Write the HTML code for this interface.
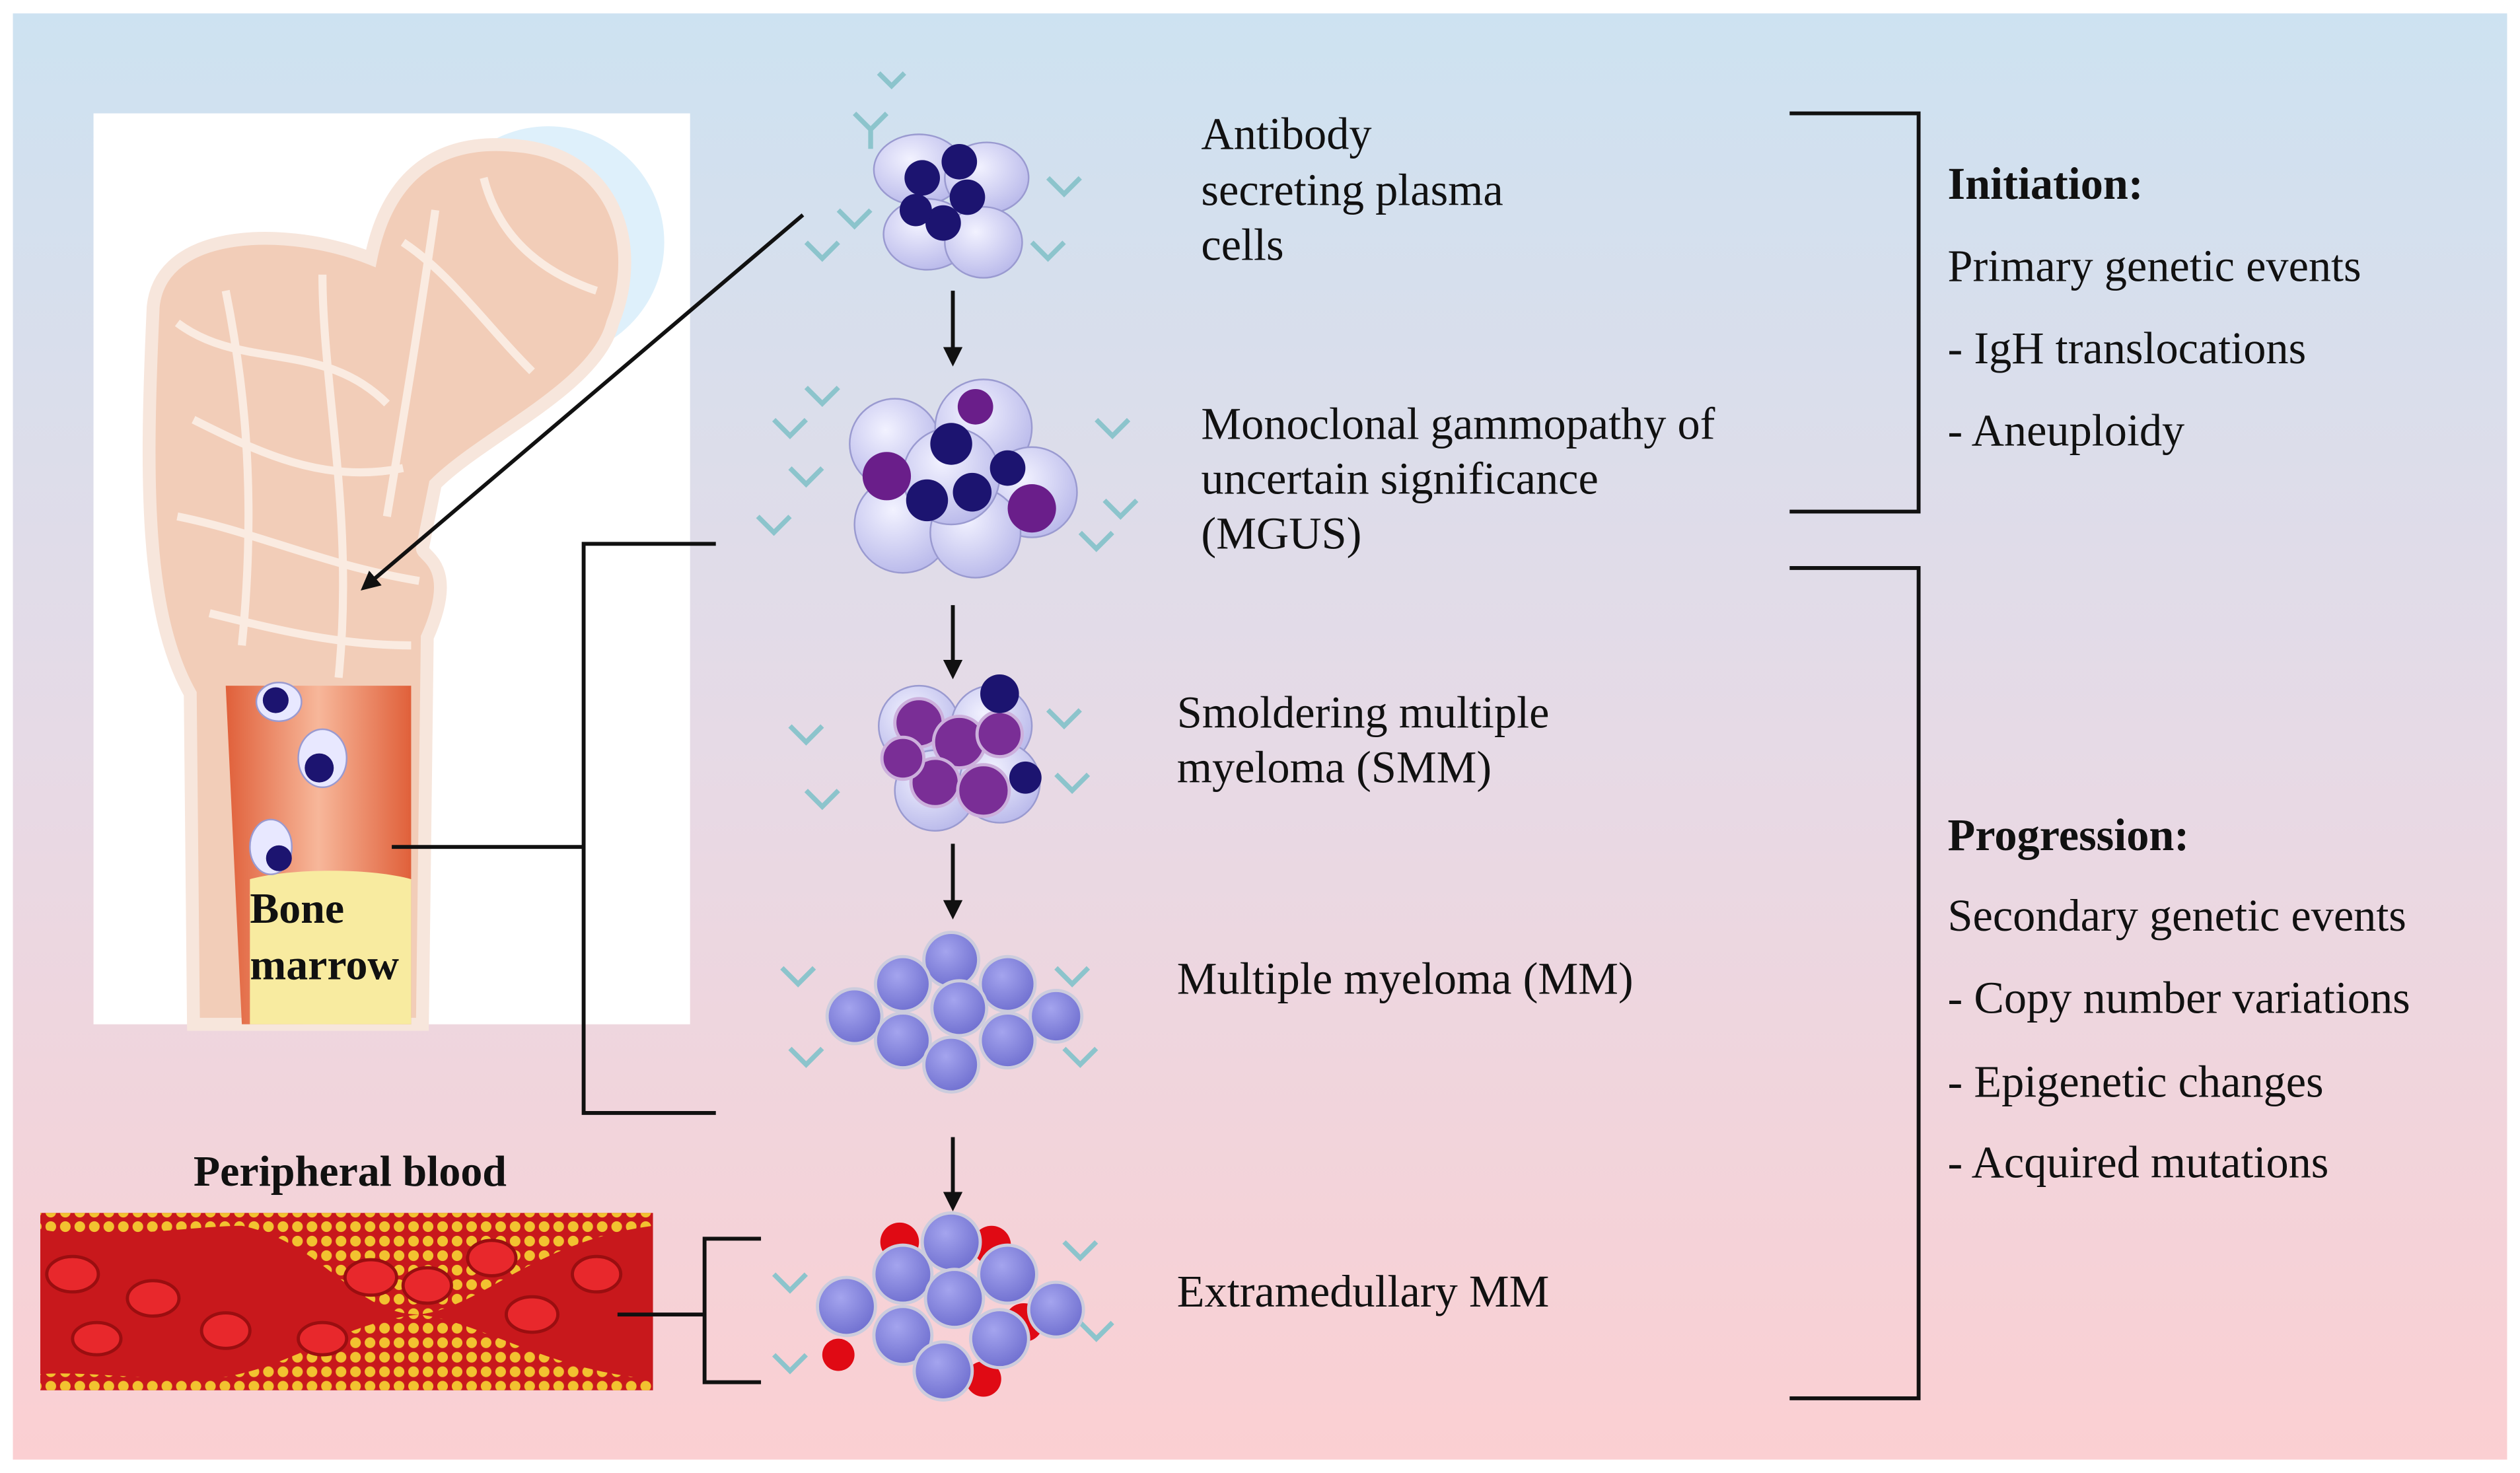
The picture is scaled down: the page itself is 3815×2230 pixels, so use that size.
<!DOCTYPE html>
<html><head><meta charset="utf-8"><style>
html,body{margin:0;padding:0;background:#fff}
svg{display:block}
text{font-family:"Liberation Serif",serif;fill:#111}
</style></head><body>
<svg width="3815" height="2230" viewBox="0 0 1563 913" xmlns="http://www.w3.org/2000/svg">
<defs>
<linearGradient id="bg" x1="0" y1="0" x2="0" y2="1">
<stop offset="0" stop-color="#cde2f1"/><stop offset="0.5" stop-color="#e6dae6"/><stop offset="1" stop-color="#fbcfd2"/></linearGradient>
<radialGradient id="cell" cx="0.4" cy="0.35" r="0.7"><stop offset="0" stop-color="#f2f2ff"/><stop offset="1" stop-color="#b8b8ea"/></radialGradient>
<radialGradient id="mm" cx="0.4" cy="0.35" r="0.7"><stop offset="0" stop-color="#a4a4ee"/><stop offset="1" stop-color="#6e6ecf"/></radialGradient>
<linearGradient id="marrow" x1="0" y1="0" x2="1" y2="0"><stop offset="0" stop-color="#e0603a"/><stop offset="0.5" stop-color="#f7b79a"/><stop offset="1" stop-color="#e0603a"/></linearGradient>
<pattern id="dots" width="9" height="9" patternUnits="userSpaceOnUse"><circle cx="4.5" cy="4.5" r="3.3" fill="#f2c230"/></pattern>
<marker id="ah" markerWidth="12" markerHeight="12" refX="9" refY="6" orient="auto" markerUnits="userSpaceOnUse"><path d="M0,0 L12,6 L0,12 z" fill="#111"/></marker>
</defs>
<rect x="0" y="0" width="1563" height="913" fill="#fff"/>
<rect x="8" y="8" width="1547" height="897" fill="url(#bg)"/>
<rect x="58" y="70" width="370" height="565" fill="#fff"/>
<circle cx="340" cy="150" r="72" fill="#d6ecfa" opacity="0.8"/>
<path d="M95,190 C100,140 180,140 230,160 C240,110 270,85 320,90 C380,95 400,150 380,200 C370,240 300,270 270,300 L262,340 C262,345 285,350 265,395 L262,635 L120,635 L118,430 C90,380 90,300 95,190 z" fill="#f2cdb8" stroke="#f7e6dc" stroke-width="8"/>
<g stroke="#fbeee6" stroke-width="5" fill="none" opacity="0.9">
<path d="M110,200 C150,230 200,210 240,250 M120,260 C160,280 200,300 250,290 M110,320 C160,330 200,350 260,360 M130,380 C170,390 210,400 255,400 M250,150 C280,170 300,200 330,230 M300,110 C310,150 340,170 370,180 M140,180 C150,230 160,300 150,400 M200,170 C200,240 220,320 210,420 M270,130 C260,200 250,260 240,320"/>
</g>
<path d="M140,425 L255,425 L255,635 L150,635 z" fill="url(#marrow)"/>
<path d="M155,545 C180,538 230,538 255,545 L255,635 L155,635 z" fill="#f8eba0"/>
<g fill="#e8e8ff" stroke="#9a9ad0"><ellipse cx="173" cy="435" rx="14" ry="12"/><ellipse cx="200" cy="470" rx="15" ry="18"/><ellipse cx="168" cy="525" rx="13" ry="17"/></g>
<g fill="#1c1470"><circle cx="171" cy="434" r="8"/><circle cx="198" cy="476" r="9"/><circle cx="173" cy="532" r="8"/></g>
<text x="155" y="572" font-size="27" font-weight="bold">Bone</text>
<text x="155" y="607" font-size="27" font-weight="bold">marrow</text>
<text x="120" y="735" font-size="27" font-weight="bold">Peripheral blood</text>
<rect x="25" y="752" width="380" height="110" fill="#c8181c"/>
<path d="M25,752 L405,752 L405,760 C330,770 300,810 260,815 C220,815 200,770 150,760 C120,760 60,770 25,762 z" fill="url(#dots)"/>
<path d="M25,862 L405,862 L405,855 C340,850 300,820 260,815 C210,820 180,850 130,855 C80,855 50,850 25,852 z" fill="url(#dots)"/>
<g fill="#e8282c" stroke="#9a0e10" stroke-width="2"><ellipse cx="45" cy="790" rx="16" ry="11"/><ellipse cx="95" cy="805" rx="16" ry="11"/><ellipse cx="140" cy="825" rx="15" ry="11"/><ellipse cx="230" cy="792" rx="16" ry="11"/><ellipse cx="265" cy="797" rx="15" ry="11"/><ellipse cx="305" cy="780" rx="15" ry="11"/><ellipse cx="330" cy="815" rx="16" ry="11"/><ellipse cx="370" cy="790" rx="15" ry="11"/><ellipse cx="60" cy="830" rx="15" ry="10"/><ellipse cx="200" cy="830" rx="15" ry="10"/></g>
<g stroke="#111" stroke-width="2.4" fill="none">
<line x1="498" y1="133" x2="226" y2="364" marker-end="url(#ah)"/>
<path d="M444,337 L362,337 L362,690 L444,690 M243,525 L362,525"/>
<path d="M472,768 L437,768 L437,857 L472,857 M383,815 L437,815"/>
<path d="M1110,70 L1190,70 L1190,317 L1110,317"/>
<path d="M1110,352 L1190,352 L1190,867 L1110,867"/>
<line x1="591" y1="180" x2="591" y2="224" marker-end="url(#ah)"/>
<line x1="591" y1="375" x2="591" y2="418" marker-end="url(#ah)"/>
<line x1="591" y1="523" x2="591" y2="567" marker-end="url(#ah)"/>
<line x1="591" y1="705" x2="591" y2="748" marker-end="url(#ah)"/>
</g>
<g stroke="#8cc4cc" stroke-width="3" fill="none">
<path d="M530,70 l10,10 l10,-10 M540,80 v12 M520,130 l10,10 l10,-10 M650,110 l10,10 l10,-10 M640,150 l10,10 l10,-10 M500,150 l10,10 l10,-10 M545,45 l8,8 l8,-8"/>
<path d="M480,260 l10,10 l10,-10 M470,320 l10,10 l10,-10 M680,260 l10,10 l10,-10 M685,310 l10,10 l10,-10 M500,240 l10,10 l10,-10 M490,290 l10,10 l10,-10 M670,330 l10,10 l10,-10"/>
<path d="M490,450 l10,10 l10,-10 M500,490 l10,10 l10,-10 M650,440 l10,10 l10,-10 M655,480 l10,10 l10,-10"/>
<path d="M485,600 l10,10 l10,-10 M490,650 l10,10 l10,-10 M655,600 l10,10 l10,-10 M660,650 l10,10 l10,-10"/>
<path d="M480,790 l10,10 l10,-10 M480,840 l10,10 l10,-10 M660,770 l10,10 l10,-10 M670,820 l10,10 l10,-10"/>
</g>
<g stroke="#9a9ad0" fill="url(#cell)"><ellipse cx="570" cy="105" rx="28" ry="22"/><ellipse cx="612" cy="110" rx="26" ry="22"/><ellipse cx="575" cy="145" rx="27" ry="22"/><ellipse cx="610" cy="150" rx="24" ry="22"/></g>
<g fill="#1c1470"><circle cx="572" cy="110" r="11"/><circle cx="595" cy="100" r="11"/><circle cx="600" cy="122" r="11"/><circle cx="585" cy="138" r="11"/><circle cx="568" cy="130" r="10"/></g>
<g stroke="#9a9ad0" fill="url(#cell)"><circle cx="555" cy="275" r="28"/><circle cx="610" cy="265" r="30"/><circle cx="640" cy="305" r="28"/><circle cx="560" cy="325" r="30"/><circle cx="605" cy="330" r="28"/><circle cx="590" cy="295" r="30"/></g>
<g fill="#1c1470"><circle cx="590" cy="275" r="13"/><circle cx="575" cy="310" r="13"/><circle cx="603" cy="305" r="12"/><circle cx="625" cy="290" r="11"/></g>
<g fill="#6a1e8a"><circle cx="550" cy="295" r="15"/><circle cx="640" cy="315" r="15"/><circle cx="605" cy="252" r="11"/></g>
<g stroke="#9a9ad0" fill="url(#cell)"><circle cx="570" cy="450" r="25"/><circle cx="615" cy="450" r="25"/><circle cx="580" cy="490" r="25"/><circle cx="620" cy="485" r="25"/></g>
<g fill="#7a2e96" stroke="#ccb0dc" stroke-width="2"><circle cx="570" cy="448" r="15"/><circle cx="595" cy="460" r="16"/><circle cx="620" cy="455" r="14"/><circle cx="580" cy="485" r="15"/><circle cx="610" cy="490" r="16"/><circle cx="560" cy="470" r="13"/></g>
<circle cx="620" cy="430" r="12" fill="#1c1470"/><circle cx="636" cy="482" r="10" fill="#1c1470"/>
<g fill="url(#mm)" stroke="#ccd" stroke-width="2">
<circle cx="590" cy="595" r="17"/><circle cx="560" cy="610" r="17"/><circle cx="625" cy="610" r="17"/><circle cx="530" cy="630" r="17"/><circle cx="595" cy="625" r="17"/><circle cx="655" cy="630" r="16"/><circle cx="560" cy="645" r="17"/><circle cx="625" cy="645" r="17"/><circle cx="590" cy="660" r="17"/></g>
<g fill="#e00a14"><circle cx="558" cy="770" r="12"/><circle cx="615" cy="772" r="12"/><circle cx="635" cy="820" r="12"/><circle cx="610" cy="855" r="11"/><circle cx="520" cy="840" r="10"/></g>
<g fill="url(#mm)" stroke="#ccd" stroke-width="2">
<circle cx="590" cy="770" r="18"/><circle cx="560" cy="790" r="18"/><circle cx="625" cy="790" r="18"/><circle cx="525" cy="810" r="18"/><circle cx="592" cy="805" r="18"/><circle cx="655" cy="812" r="17"/><circle cx="560" cy="828" r="18"/><circle cx="620" cy="830" r="18"/><circle cx="585" cy="850" r="18"/></g>
<g font-size="28">
<text x="745" y="92">Antibody</text>
<text x="745" y="127">secreting plasma</text>
<text x="745" y="161">cells</text>
<text x="745" y="272">Monoclonal gammopathy of</text>
<text x="745" y="306">uncertain significance</text>
<text x="745" y="340">(MGUS)</text>
<text x="730" y="451">Smoldering multiple</text>
<text x="730" y="485">myeloma (SMM)</text>
<text x="730" y="616">Multiple myeloma (MM)</text>
<text x="730" y="810">Extramedullary MM</text>
<text x="1208" y="123" font-weight="bold">Initiation:</text>
<text x="1208" y="174">Primary genetic events</text>
<text x="1208" y="225">- IgH translocations</text>
<text x="1208" y="276">- Aneuploidy</text>
<text x="1208" y="527" font-weight="bold">Progression:</text>
<text x="1208" y="577">Secondary genetic events</text>
<text x="1208" y="628">- Copy number variations</text>
<text x="1208" y="680">- Epigenetic changes</text>
<text x="1208" y="730">- Acquired mutations</text>
</g>
</svg>
</body></html>
